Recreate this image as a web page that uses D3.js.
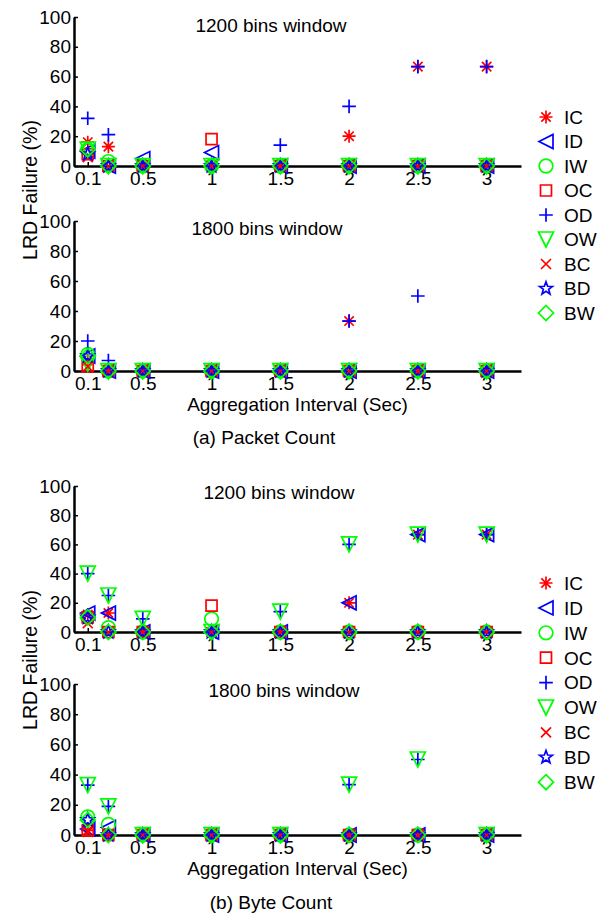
<!DOCTYPE html>
<html>
<head>
<meta charset="utf-8">
<script src="https://cdn.jsdelivr.net/npm/d3@7"></script>
<style>
  body { margin: 0; background: #fff; }
  svg { font-family: "Liberation Sans", Arial, sans-serif; }
  .axis text { font-size: 19px; fill: #000; }
  .axis .domain { stroke: #000; stroke-width: 2.5; }
  .axis .tick line { stroke: #000; stroke-width: 1.5; }
</style>
</head>
<body>
<div id="chart"></div>
<script>
// aggregation intervals (sec)
var xs = [0.1, 0.25, 0.5, 1, 1.5, 2, 2.5, 3];
var names = ["IC", "ID", "IW", "OC", "OD", "OW", "BC", "BD", "BW"];
var xTicks = [0.1, 0.5, 1, 1.5, 2, 2.5, 3];
var yTicks = [0, 20, 40, 60, 80, 100];

// LRD failure (%) per series, in names order
var pkt1200 = [
  [16, 13, 0, 0, 0, 20, 66.7, 66.7],
  [10, 0, 5, 9, 0, 0, 0, 0],
  [11, 3, 0, 0, 0, 0, 0, 0],
  [8, 0, 0, 18, 0, 0, 0, 0],
  [32, 21, 0, 0, 14, 40, 66.7, 66.7],
  [11, 0, 0, 0, 0, 0, 0, 0],
  [6, 0, 0, 0, 0, 0, 0, 0],
  [8, 0, 0, 0, 0, 0, 0, 0],
  [11, 0, 0, 0, 0, 0, 0, 0]
];
var pkt1800 = [
  [7, 0, 0, 0, 0, 33.3, 0, 0],
  [10, 0, 0, 0, 0, 0, 0, 0],
  [11, 0, 0, 0, 0, 0, 0, 0],
  [3, 0, 0, 0, 0, 0, 0, 0],
  [20, 7, 0, 0, 0, 33.3, 50, 0],
  [5, 0, 0, 0, 0, 0, 0, 0],
  [3, 0, 0, 0, 0, 0, 0, 0],
  [10, 0, 0, 0, 0, 0, 0, 0],
  [10, 0, 0, 0, 0, 0, 0, 0]
];
var byte1200 = [
  [12, 13, 0, 0, 0, 20, 66.7, 66.7],
  [13, 13, 0, 0, 0, 20, 66.7, 66.7],
  [10, 3, 0, 9, 0, 0, 0, 0],
  [10, 0, 0, 18, 0, 0, 0, 0],
  [40, 25, 9, 0, 14, 60, 66.7, 66.7],
  [40, 25, 9, 0, 14, 60, 66.7, 66.7],
  [6, 0, 0, 0, 0, 0, 0, 0],
  [10, 0, 0, 0, 0, 0, 0, 0],
  [10, 0, 0, 0, 0, 0, 0, 0]
];
var byte1800 = [
  [3, 0, 0, 0, 0, 0, 0, 0],
  [4, 5, 0, 0, 0, 0, 0, 0],
  [12, 7, 0, 0, 0, 0, 0, 0],
  [3, 0, 0, 0, 0, 0, 0, 0],
  [33, 19, 0, 0, 0, 33.3, 50, 0],
  [33, 19, 0, 0, 0, 33.3, 50, 0],
  [2, 0, 0, 0, 0, 0, 0, 0],
  [10, 0, 0, 0, 0, 0, 0, 0],
  [10, 0, 0, 0, 0, 0, 0, 0]
];

// styles
var colors = ["#ff0000", "#0000ff", "#00ff00", "#ff0000", "#0000ff", "#00ff00", "#ff0000", "#0000ff", "#00ff00"];
var shapes = ["asterisk", "triLeft", "circle", "square", "plus", "triDown", "cross", "star", "diamond"];

function markerPath(type) {
  var s, a, p;
  switch (type) {
    case "asterisk": s = 6.5; a = s * 0.72;
      return "M" + (-s) + ",0H" + s + "M0," + (-s) + "V" + s +
        "M" + (-a) + "," + (-a) + "L" + a + "," + a + "M" + (-a) + "," + a + "L" + a + "," + (-a);
    case "plus": s = 6.8;
      return "M" + (-s) + ",0H" + s + "M0," + (-s) + "V" + s;
    case "cross": s = 5;
      return "M" + (-s) + "," + (-s) + "L" + s + "," + s + "M" + (-s) + "," + s + "L" + s + "," + (-s);
    case "triLeft": s = 7;
      return "M" + (-s) + ",0L" + s + "," + (-s) + "L" + s + "," + s + "Z";
    case "triDown": s = 7.5;
      return "M" + (-s) + "," + (-s) + "L" + s + "," + (-s) + "L0," + s + "Z";
    case "square": s = 5.5;
      return "M" + (-s) + "," + (-s) + "H" + s + "V" + s + "H" + (-s) + "Z";
    case "circle": s = 6.8;
      return "M" + s + ",0A" + s + "," + s + " 0 1,1 " + (-s) + ",0A" + s + "," + s + " 0 1,1 " + s + ",0Z";
    case "diamond": s = 7.5;
      return "M0," + (-s) + "L" + s + ",0L0," + s + "L" + (-s) + ",0Z";
    case "star":
      p = [];
      for (var i = 0; i < 10; i++) {
        var r = i % 2 ? 2.8 : 6.8;
        var ang = -Math.PI / 2 + i * Math.PI / 5;
        p.push([r * Math.cos(ang), r * Math.sin(ang)]);
      }
      return "M" + p.map(function(d) { return d[0].toFixed(2) + "," + d[1].toFixed(2); }).join("L") + "Z";
  }
}

var W = 608, H = 914;
var svg = d3.select("#chart").append("svg")
    .attr("width", W)
    .attr("height", H);

var x = d3.scaleLinear().domain([0, 3.25]).range([74, 521]);

var panels = [
  {data: pkt1200, y0: 166, y1: 17, title: "1200 bins window", tx: 271, ty: 32},
  {data: pkt1800, y0: 371, y1: 221, title: "1800 bins window", tx: 267, ty: 235},
  {data: byte1200, y0: 632, y1: 486, title: "1200 bins window", tx: 279, ty: 499},
  {data: byte1800, y0: 835, y1: 684, title: "1800 bins window", tx: 284, ty: 697}
];

panels.forEach(function(p, pi) {
  var y = d3.scaleLinear().domain([0, 100]).range([p.y0, p.y1]);

  svg.append("g")
    .attr("class", "axis")
    .attr("transform", "translate(" + x.range()[0] + ",0)")
    .call(d3.axisLeft(y).tickValues(yTicks).tickSizeInner(-4).tickSizeOuter(0).tickPadding(3));

  var xg = svg.append("g")
    .attr("class", "axis")
    .attr("transform", "translate(0," + p.y0 + ")")
    .call(d3.axisBottom(x).tickValues(xTicks).tickFormat(d3.format("")).tickSizeInner(-4).tickSizeOuter(0).tickPadding(5.5));
  xg.select(".domain").attr("stroke-width", 3);

  svg.append("text")
    .attr("x", p.tx).attr("y", p.ty)
    .attr("text-anchor", "middle")
    .style("font-size", "19px")
    .text(p.title);

  p.data.forEach(function(vals, si) {
    svg.append("g")
      .selectAll("path")
      .data(vals)
      .enter().append("path")
      .attr("d", markerPath(shapes[si]))
      .attr("transform", function(d, i) { return "translate(" + x(xs[i]) + "," + y(d) + ")"; })
      .attr("fill", "none")
      .attr("stroke", colors[si])
      .attr("stroke-width", 1.7);
  });

  if (pi % 2 === 1) {
    svg.append("text")
      .attr("x", (x.range()[0] + x.range()[1]) / 2)
      .attr("y", p.y0 + 39.5)
      .attr("text-anchor", "middle")
      .style("font-size", "19px")
      .text("Aggregation Interval (Sec)");
  }
});

// y axis titles
[190, 660].forEach(function(cy) {
  svg.append("text")
    .attr("transform", "translate(37," + cy + ") rotate(-90)")
    .attr("text-anchor", "middle")
    .style("font-size", "19.5px")
    .text("LRD Failure (%)");
});

// captions
svg.append("text").attr("x", 264).attr("y", 444).attr("text-anchor", "middle")
  .style("font-size", "19px").text("(a) Packet Count");
svg.append("text").attr("x", 271).attr("y", 909).attr("text-anchor", "middle")
  .style("font-size", "19px").text("(b) Byte Count");

// legends
[{top: 117, step: 24.5}, {top: 583, step: 24.9}].forEach(function(lg) {
  var g = svg.append("g");
  var items = g.selectAll("g")
    .data(names)
    .enter().append("g")
    .attr("transform", function(d, i) { return "translate(546," + (lg.top + i * lg.step) + ")"; });
  items.append("path")
    .attr("d", function(d, i) { return markerPath(shapes[i]); })
    .attr("fill", "none")
    .attr("stroke", function(d, i) { return colors[i]; })
    .attr("stroke-width", 1.7);
  items.append("text")
    .attr("x", 18)
    .attr("dy", "0.36em")
    .style("font-size", "19px")
    .text(function(d) { return d; });
});
</script>
</body>
</html>
